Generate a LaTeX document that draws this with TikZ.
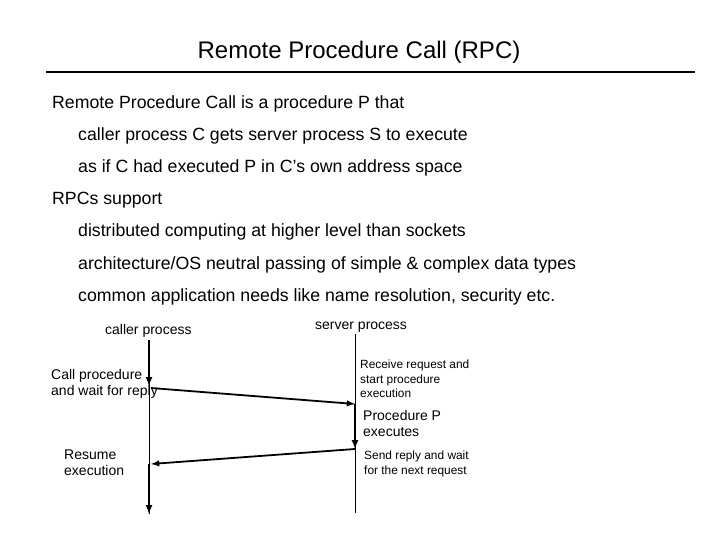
\documentclass[tikz,border=0pt]{standalone}
\usepackage{fontspec}
\setmainfont{Liberation Sans}
\begin{document}
\begin{tikzpicture}[x=1pt,y=-1pt,
 body/.style={anchor=west,inner sep=0pt,font=\fontsize{17.7}{20}\selectfont},
 small/.style={anchor=north west,inner sep=0pt,align=left,font=\fontsize{14}{16}\selectfont},
 tiny/.style={anchor=north west,inner sep=0pt,align=left,font=\fontsize{11.9}{14.5}\selectfont},
 thin/.style={line width=0.8pt},
 thick/.style={line width=2pt,-latex},
 msg/.style={line width=1.8pt,-latex}]
\useasboundingbox (0,0) rectangle (720,540);
\node[inner sep=0pt,font=\fontsize{24}{26}\selectfont] (title) at (359,52) {Remote Procedure Call (RPC)};
\draw[line width=2.5pt] (46,72) -- (695,72);
\node[body] (l1) at (52,104) {Remote Procedure Call is a procedure P that};
\node[body] (l2) at (78,136) {caller process C gets server process S to execute};
\node[body] (l3) at (78,168) {as if C had executed P in C\symbol{39}s own address space};
\node[body] (l4) at (52,200) {RPCs support};
\node[body] (l5) at (78,232) {distributed computing at higher level than sockets};
\node[body] (l6) at (78,265) {architecture/OS neutral passing of simple \& complex data types};
\node[body] (l7) at (78,297) {common application needs like name resolution, security etc.};
% processes
\node[small,anchor=west] (cp) at (105,331) {caller process};
\node[small,anchor=west] (sp) at (315,327) {server process};
\coordinate (c0) at (149,340);
\coordinate (c1) at (149,386);
\coordinate (c2) at (149,464);
\coordinate (c3) at (149,514);
\coordinate (s0) at (355,334);
\coordinate (s1) at (355,404);
\coordinate (s2) at (355,449);
\coordinate (s3) at (355,513);
\draw[thin] (c0) -- (c3);
\draw[thin] (s0) -- (s3);
\draw[thick] (c0) -- (c1);
\draw[thick] (s1) -- (s2);
\draw[thick] (c2) -- (c3);
\draw[msg] (151,388) -- (s1);
\draw[msg] (s2) -- (151,464);
\node[small] (cpr) at (51,369) {Call procedure\\and wait for reply};
\node[tiny] (rr) at (360,360) {Receive request and\\start procedure\\execution};
\node[small] (pe) at (363,410) {Procedure P\\executes};
\node[small] (re) at (64,450) {Resume\\execution};
\node[tiny] (sr) at (364,451) {Send reply and wait\\for the next request};
\end{tikzpicture}
\end{document}
